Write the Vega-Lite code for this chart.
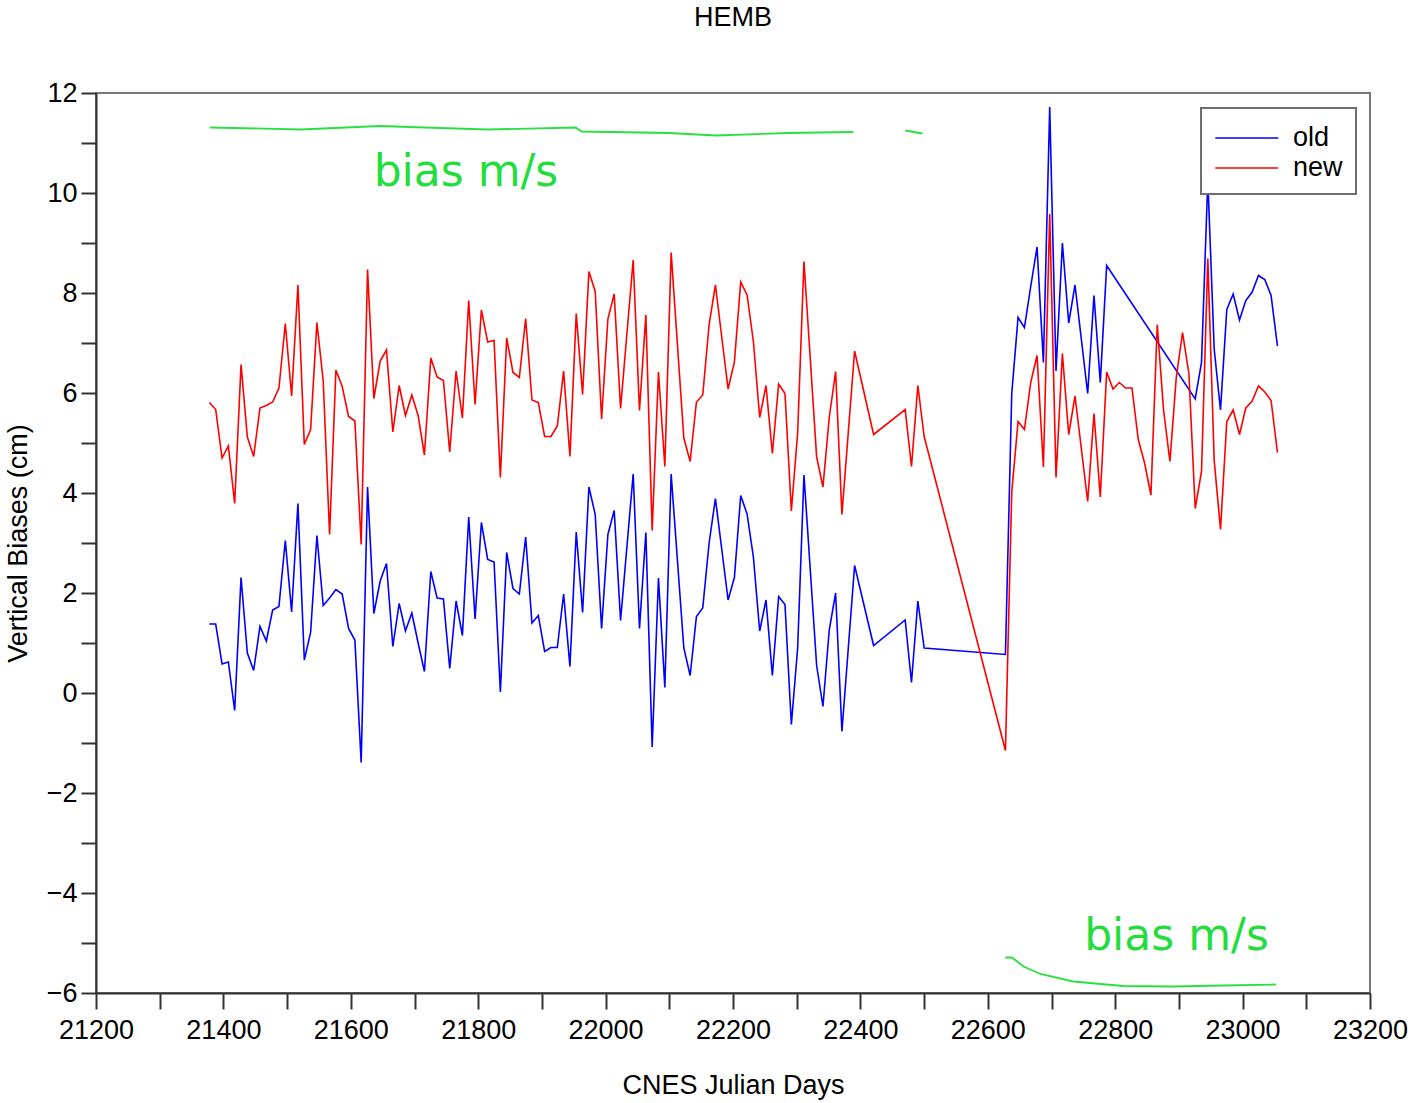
{
  "$schema": "https://vega.github.io/schema/vega-lite/v6.json",
  "width": 1274,
  "height": 900,
  "autosize": {"type": "none"},
  "padding": {"left": 96, "top": 93, "right": 41, "bottom": 110},
  "background": "white",
  "title": {
    "text": "HEMB",
    "font": "Liberation Sans",
    "fontSize": 27,
    "fontWeight": "normal",
    "color": "#000000",
    "anchor": "middle",
    "frame": "group",
    "offset": 47
  },
  "config": {
    "view": {"stroke": "#777777", "strokeWidth": 2},
    "legend": {"strokeWidth": 2},
    "axis": {
      "grid": false,
      "tickWidth": 2,
      "tickColor": "#333333",
      "domainColor": "#333333",
      "domainWidth": 2,
      "labelFont": "Liberation Sans",
      "labelFontSize": 27,
      "labelColor": "#000000",
      "titleFont": "Liberation Sans",
      "titleFontSize": 27,
      "titleFontWeight": "normal",
      "titleColor": "#000000",
      "labelFlush": false,
      "labelOverlap": false,
      "labelBound": false
    }
  },
  "datasets": {
    "biases": [
      {"d": 21378.0, "old": 1.38, "new": 5.81},
      {"d": 21387.9, "old": 1.38, "new": 5.67},
      {"d": 21397.9, "old": 0.58, "new": 4.70},
      {"d": 21407.8, "old": 0.62, "new": 4.94},
      {"d": 21417.7, "old": -0.35, "new": 3.79},
      {"d": 21427.7, "old": 2.31, "new": 6.57},
      {"d": 21437.6, "old": 0.80, "new": 5.12},
      {"d": 21447.5, "old": 0.45, "new": 4.73},
      {"d": 21457.4, "old": 1.33, "new": 5.70},
      {"d": 21467.4, "old": 1.04, "new": 5.75},
      {"d": 21477.3, "old": 1.66, "new": 5.82},
      {"d": 21487.2, "old": 1.73, "new": 6.10},
      {"d": 21497.2, "old": 3.05, "new": 7.39},
      {"d": 21507.1, "old": 1.62, "new": 5.94},
      {"d": 21517.0, "old": 3.79, "new": 8.16},
      {"d": 21527.0, "old": 0.66, "new": 4.97},
      {"d": 21536.9, "old": 1.21, "new": 5.27},
      {"d": 21546.8, "old": 3.15, "new": 7.41},
      {"d": 21556.7, "old": 1.75, "new": 6.24},
      {"d": 21566.7, "old": 1.90, "new": 3.17},
      {"d": 21576.6, "old": 2.07, "new": 6.46},
      {"d": 21586.5, "old": 1.98, "new": 6.13},
      {"d": 21596.5, "old": 1.29, "new": 5.53},
      {"d": 21606.4, "old": 1.06, "new": 5.44},
      {"d": 21616.3, "old": -1.39, "new": 2.97},
      {"d": 21626.3, "old": 4.12, "new": 8.47},
      {"d": 21636.2, "old": 1.59, "new": 5.89},
      {"d": 21646.1, "old": 2.24, "new": 6.64},
      {"d": 21656.0, "old": 2.59, "new": 6.86},
      {"d": 21666.0, "old": 0.93, "new": 5.22},
      {"d": 21675.9, "old": 1.79, "new": 6.15},
      {"d": 21685.8, "old": 1.24, "new": 5.55},
      {"d": 21695.8, "old": 1.60, "new": 5.96},
      {"d": 21705.7, "old": 1.00, "new": 5.55},
      {"d": 21715.6, "old": 0.43, "new": 4.76},
      {"d": 21725.6, "old": 2.43, "new": 6.70},
      {"d": 21735.5, "old": 1.90, "new": 6.32},
      {"d": 21745.4, "old": 1.88, "new": 6.25},
      {"d": 21755.3, "old": 0.49, "new": 4.82},
      {"d": 21765.3, "old": 1.84, "new": 6.44},
      {"d": 21775.2, "old": 1.15, "new": 5.50},
      {"d": 21785.1, "old": 3.52, "new": 7.85},
      {"d": 21795.1, "old": 1.48, "new": 5.77},
      {"d": 21805.0, "old": 3.41, "new": 7.66},
      {"d": 21814.9, "old": 2.67, "new": 7.02},
      {"d": 21824.9, "old": 2.62, "new": 7.05},
      {"d": 21834.8, "old": 0.02, "new": 4.31},
      {"d": 21844.7, "old": 2.81, "new": 7.10},
      {"d": 21854.6, "old": 2.09, "new": 6.41},
      {"d": 21864.6, "old": 1.98, "new": 6.31},
      {"d": 21874.5, "old": 3.12, "new": 7.49},
      {"d": 21884.4, "old": 1.40, "new": 5.86},
      {"d": 21894.4, "old": 1.55, "new": 5.81},
      {"d": 21904.3, "old": 0.83, "new": 5.13},
      {"d": 21914.2, "old": 0.91, "new": 5.13},
      {"d": 21924.2, "old": 0.91, "new": 5.34},
      {"d": 21934.1, "old": 1.98, "new": 6.44},
      {"d": 21944.0, "old": 0.53, "new": 4.73},
      {"d": 21953.9, "old": 3.22, "new": 7.59},
      {"d": 21963.9, "old": 1.61, "new": 5.97},
      {"d": 21973.8, "old": 4.12, "new": 8.43},
      {"d": 21983.7, "old": 3.57, "new": 8.03},
      {"d": 21993.7, "old": 1.29, "new": 5.48},
      {"d": 22003.6, "old": 3.17, "new": 7.48},
      {"d": 22013.5, "old": 3.65, "new": 7.98},
      {"d": 22023.5, "old": 1.45, "new": 5.69},
      {"d": 22043.3, "old": 4.38, "new": 8.66},
      {"d": 22053.2, "old": 1.29, "new": 5.65},
      {"d": 22063.2, "old": 3.21, "new": 7.56},
      {"d": 22073.1, "old": -1.08, "new": 3.25},
      {"d": 22083.0, "old": 2.30, "new": 6.42},
      {"d": 22093.0, "old": 0.11, "new": 4.53},
      {"d": 22102.9, "old": 4.38, "new": 8.81},
      {"d": 22122.8, "old": 0.90, "new": 5.10},
      {"d": 22132.7, "old": 0.35, "new": 4.63},
      {"d": 22142.6, "old": 1.53, "new": 5.82},
      {"d": 22152.5, "old": 1.70, "new": 5.96},
      {"d": 22162.5, "old": 3.00, "new": 7.37},
      {"d": 22172.4, "old": 3.89, "new": 8.16},
      {"d": 22192.3, "old": 1.86, "new": 6.08},
      {"d": 22202.2, "old": 2.31, "new": 6.62},
      {"d": 22212.1, "old": 3.95, "new": 8.22},
      {"d": 22222.1, "old": 3.58, "new": 7.96},
      {"d": 22232.0, "old": 2.72, "new": 7.03},
      {"d": 22241.9, "old": 1.24, "new": 5.51},
      {"d": 22251.8, "old": 1.86, "new": 6.15},
      {"d": 22261.8, "old": 0.35, "new": 4.79},
      {"d": 22271.7, "old": 1.93, "new": 6.18},
      {"d": 22281.6, "old": 1.77, "new": 5.99},
      {"d": 22291.6, "old": -0.63, "new": 3.64},
      {"d": 22301.5, "old": 0.90, "new": 5.20},
      {"d": 22311.4, "old": 4.36, "new": 8.63},
      {"d": 22331.3, "old": 0.55, "new": 4.72},
      {"d": 22341.2, "old": -0.27, "new": 4.12},
      {"d": 22351.1, "old": 1.26, "new": 5.51},
      {"d": 22361.1, "old": 2.00, "new": 6.43},
      {"d": 22371.0, "old": -0.77, "new": 3.57},
      {"d": 22390.9, "old": 2.55, "new": 6.84},
      {"d": 22420.7, "old": 0.95, "new": 5.17},
      {"d": 22470.3, "old": 1.46, "new": 5.67},
      {"d": 22480.2, "old": 0.21, "new": 4.53},
      {"d": 22490.2, "old": 1.84, "new": 6.15},
      {"d": 22500.1, "old": 0.90, "new": 5.13},
      {"d": 22627.7, "old": 0.77, "new": -1.15},
      {"d": 22637.6, "old": 5.99, "new": 4.02},
      {"d": 22647.5, "old": 7.51, "new": 5.43},
      {"d": 22657.5, "old": 7.31, "new": 5.27},
      {"d": 22667.4, "old": 8.13, "new": 6.21},
      {"d": 22677.3, "old": 8.92, "new": 6.75},
      {"d": 22687.3, "old": 6.61, "new": 4.52},
      {"d": 22697.2, "old": 11.72, "new": 9.58},
      {"d": 22707.1, "old": 6.44, "new": 4.31},
      {"d": 22717.1, "old": 9.00, "new": 6.79},
      {"d": 22727.0, "old": 7.40, "new": 5.17},
      {"d": 22736.9, "old": 8.16, "new": 5.94},
      {"d": 22756.8, "old": 5.99, "new": 3.83},
      {"d": 22766.7, "old": 7.95, "new": 5.59},
      {"d": 22776.6, "old": 6.21, "new": 3.92},
      {"d": 22786.6, "old": 8.55, "new": 6.42},
      {"d": 22796.5, "new": 6.08},
      {"d": 22806.4, "new": 6.21},
      {"d": 22816.4, "new": 6.10},
      {"d": 22826.3, "new": 6.10},
      {"d": 22836.2, "new": 5.07},
      {"d": 22846.1, "new": 4.60},
      {"d": 22856.1, "new": 3.96},
      {"d": 22866.0, "new": 7.37},
      {"d": 22875.9, "new": 5.66},
      {"d": 22885.9, "new": 4.63},
      {"d": 22895.8, "new": 6.30},
      {"d": 22905.7, "new": 7.21},
      {"d": 22915.7, "new": 6.39},
      {"d": 22925.6, "old": 5.88, "new": 3.69},
      {"d": 22935.5, "old": 6.61, "new": 4.43},
      {"d": 22945.4, "old": 10.27, "new": 8.69},
      {"d": 22955.4, "old": 6.88, "new": 4.65},
      {"d": 22965.3, "old": 5.66, "new": 3.27},
      {"d": 22975.2, "old": 7.67, "new": 5.43},
      {"d": 22985.2, "old": 7.98, "new": 5.66},
      {"d": 22995.1, "old": 7.46, "new": 5.17},
      {"d": 23005.0, "old": 7.85, "new": 5.70},
      {"d": 23015.0, "old": 8.02, "new": 5.84},
      {"d": 23024.9, "old": 8.35, "new": 6.14},
      {"d": 23034.8, "old": 8.27, "new": 6.02},
      {"d": 23044.7, "old": 7.95, "new": 5.85},
      {"d": 23054.7, "old": 6.94, "new": 4.81}
    ],
    "speed": [
      {"part": "a", "d": 21378.8, "v": 11.31},
      {"part": "a", "d": 21521.6, "v": 11.27},
      {"part": "a", "d": 21645.5, "v": 11.34},
      {"part": "a", "d": 21716.1, "v": 11.31},
      {"part": "a", "d": 21814.9, "v": 11.27},
      {"part": "a", "d": 21952.9, "v": 11.31},
      {"part": "a", "d": 21962.4, "v": 11.23},
      {"part": "a", "d": 22098.8, "v": 11.20},
      {"part": "a", "d": 22174.1, "v": 11.15},
      {"part": "a", "d": 22287.1, "v": 11.20},
      {"part": "a", "d": 22389.0, "v": 11.22},
      {"part": "b", "d": 22470.6, "v": 11.25},
      {"part": "b", "d": 22497.3, "v": 11.19},
      {"part": "c", "d": 22627.5, "v": -5.29},
      {"part": "c", "d": 22637.9, "v": -5.29},
      {"part": "c", "d": 22656.2, "v": -5.47},
      {"part": "c", "d": 22682.4, "v": -5.62},
      {"part": "c", "d": 22734.1, "v": -5.77},
      {"part": "c", "d": 22812.5, "v": -5.86},
      {"part": "c", "d": 22890.9, "v": -5.87},
      {"part": "c", "d": 22969.4, "v": -5.85},
      {"part": "c", "d": 23052.5, "v": -5.83}
    ],
    "notes": [
      {"d": 21780.8, "v": 10.14, "t": "bias m/s"},
      {"d": 22896.2, "v": -5.14, "t": "bias m/s"}
    ]
  },
  "encoding": {
    "x": {
      "field": "d",
      "type": "quantitative",
      "scale": {"domain": [21200, 23200], "nice": false, "zero": false},
      "axis": {
        "title": "CNES Julian Days",
        "values": [21200, 21300, 21400, 21500, 21600, 21700, 21800, 21900, 22000, 22100, 22200, 22300, 22400, 22500, 22600, 22700, 22800, 22900, 23000, 23100, 23200],
        "format": "d",
        "labelExpr": "datum.value % 200 === 0 ? datum.label : ''",
        "tickSize": 16,
        "labelPadding": 8,
        "titlePadding": 29
      }
    },
    "y": {
      "field": "v",
      "type": "quantitative",
      "scale": {"domain": [-6, 12], "nice": false, "zero": false},
      "axis": {
        "title": "Vertical Biases (cm)",
        "values": [-6, -5, -4, -3, -2, -1, 0, 1, 2, 3, 4, 5, 6, 7, 8, 9, 10, 11, 12],
        "format": "d",
        "labelExpr": "datum.value % 2 === 0 ? datum.label : ''",
        "tickSize": 15,
        "labelPadding": 4,
        "titlePadding": 14
      }
    }
  },
  "layer": [
    {
      "data": {"name": "biases"},
      "transform": [
        {"fold": ["old", "new"], "as": ["series", "v"]},
        {"filter": "isValid(datum.v)"}
      ],
      "mark": {"type": "line", "strokeWidth": 1.6},
      "encoding": {
        "color": {
          "field": "series",
          "type": "nominal",
          "scale": {"domain": ["old", "new"], "range": ["#0000ff", "#ff0000"]},
          "legend": {
            "title": null,
            "orient": "none",
            "legendX": 1105,
            "legendY": 15,
            "direction": "vertical",
            "fillColor": "#ffffff",
            "strokeColor": "#6e6e6e",
            "padding": 13,
            "rowPadding": 0,
            "symbolType": "M-1,0H3",
            "symbolSize": 992,
            "symbolStrokeWidth": 1.6,
            "labelFont": "Liberation Sans",
            "labelFontSize": 27,
            "labelColor": "#000000",
            "labelOffset": 45
          }
        }
      }
    },
    {
      "data": {"name": "speed"},
      "mark": {"type": "line", "stroke": "#2ae040", "strokeWidth": 1.8},
      "encoding": {"detail": {"field": "part", "type": "nominal"}}
    },
    {
      "data": {"name": "notes"},
      "mark": {
        "type": "text",
        "font": "DejaVu Sans",
        "fontSize": 44,
        "color": "#22dd3c",
        "align": "center",
        "baseline": "alphabetic"
      },
      "encoding": {"text": {"field": "t"}}
    }
  ]
}
